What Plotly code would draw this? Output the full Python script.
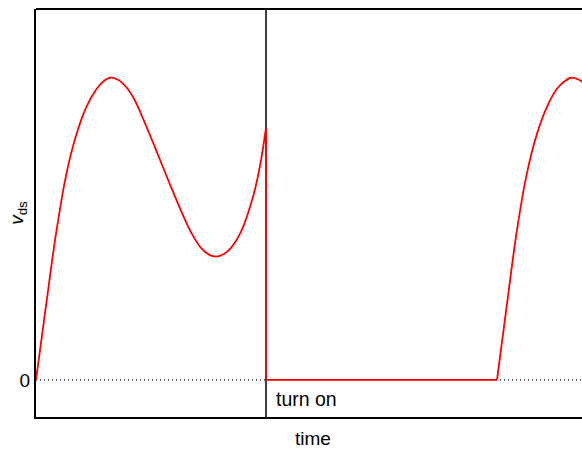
import plotly.graph_objects as go

# Drain-source voltage of a resonant switch over one cycle (arbitrary units)
# First resonant arc, before the switch turns on
arc1_t = [0.00, 0.10, 0.20, 0.30, 0.40, 0.50, 0.60, 0.67, 0.74, 0.82,
          0.90, 0.98, 1.05, 1.20, 1.35, 1.50, 1.57, 1.65, 1.73, 1.80,
          1.88, 1.95, 2.05, 2.17, 2.24, 2.30]
arc1_v = [0.00, 0.74, 1.46, 2.04, 2.44, 2.72, 2.90, 2.98, 3.02, 3.00,
          2.93, 2.81, 2.66, 2.30, 1.93, 1.58, 1.44, 1.32, 1.253, 1.233,
          1.259, 1.32, 1.48, 1.83, 2.14, 2.52]

# Switch on: voltage collapses and stays at zero
on_t = [2.30, 2.30, 4.61]
on_v = [2.52, 0.00, 0.00]

# Next resonant arc after turn-off
arc2_t = [4.61, 4.71, 4.81, 4.91, 5.01, 5.11, 5.21, 5.28, 5.35, 5.43, 5.52]
arc2_v = [0.00, 0.76, 1.50, 2.07, 2.46, 2.73, 2.91, 2.98, 3.02, 3.00, 2.93]

turn_on_t = 2.30
y_ticks = [0]
y_tick_text = ["0"]

RED = "#ff0000"
FONT = "Liberation Sans, Arial, Helvetica, sans-serif"

fig = go.Figure()
fig.add_trace(go.Scatter(x=arc1_t, y=arc1_v, mode="lines",
                         line=dict(color=RED, width=1.8, shape="spline", smoothing=1.0)))
fig.add_trace(go.Scatter(x=on_t, y=on_v, mode="lines",
                         line=dict(color=RED, width=1.8)))
fig.add_trace(go.Scatter(x=arc2_t, y=arc2_v, mode="lines",
                         line=dict(color=RED, width=1.8, shape="spline", smoothing=1.0)))

x_max = 5.46
y_min, y_max = -0.37, 3.707

shapes = [
    # zero reference
    dict(type="line", xref="x", yref="y", x0=0, x1=x_max, y0=0, y1=0,
         line=dict(color="black", width=1.2, dash="1px,3px"), layer="below"),
    # turn-on instant
    dict(type="line", xref="x", yref="paper", x0=turn_on_t, x1=turn_on_t, y0=0, y1=1,
         line=dict(color="black", width=1.5), layer="below"),
    # top frame edge
    dict(type="line", xref="paper", yref="paper", x0=0, x1=1, y0=1, y1=1,
         line=dict(color="black", width=2)),
]

fig.update_layout(
    width=582, height=453,
    margin=dict(l=36, r=0, t=9, b=36),
    paper_bgcolor="white", plot_bgcolor="white",
    showlegend=False,
    font=dict(family=FONT, size=19, color="black"),
    shapes=shapes,
    xaxis=dict(range=[0, x_max], showgrid=False, zeroline=False, showticklabels=False,
               ticks="", showline=True, linecolor="black", linewidth=2),
    yaxis=dict(range=[y_min, y_max], showgrid=False, zeroline=False,
               tickvals=y_ticks, ticktext=y_tick_text, ticks="",
               showline=True, linecolor="black", linewidth=2),
    annotations=[
        dict(text="<i>v</i><sub>ds</sub>", x=(18 - 36) / 546, y=(417 - 213) / 407.7,
             xref="paper", yref="paper", xanchor="center", yanchor="middle",
             textangle=-90, showarrow=False, font=dict(family=FONT, size=19)),
        dict(text="turn on", x=turn_on_t, y=-0.19, xref="x", yref="y",
             xanchor="left", yanchor="middle", xshift=8, showarrow=False,
             font=dict(family=FONT, size=19.5)),
        dict(text="time", x=(312.5 - 36) / 546, y=(417 - 438) / 407.7,
             xref="paper", yref="paper", xanchor="center", yanchor="middle",
             showarrow=False, font=dict(family=FONT, size=19)),
    ],
)

fig.write_html("out.html")
